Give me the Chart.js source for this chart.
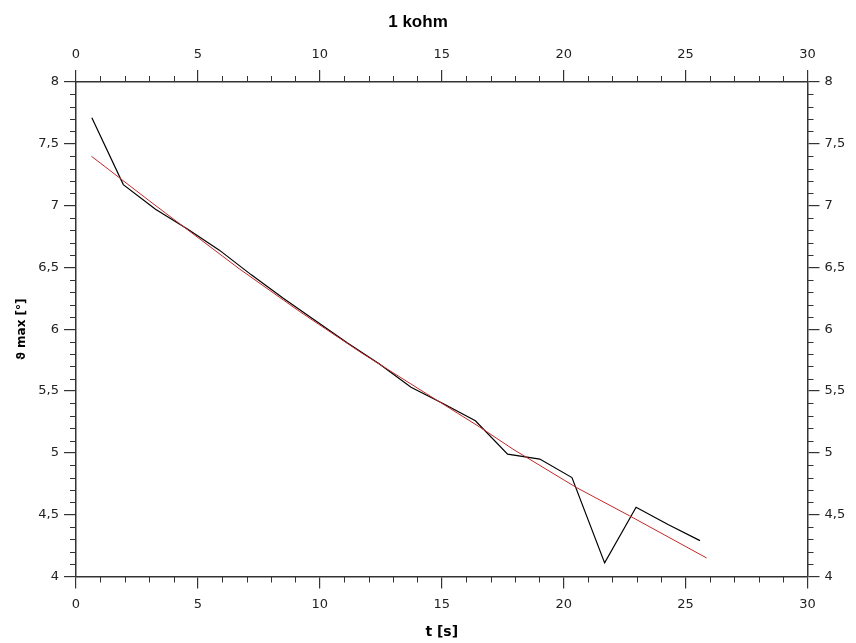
<!DOCTYPE html>
<html>
<head>
<meta charset="utf-8">
<script src="https://cdn.jsdelivr.net/npm/chart.js@4/dist/chart.umd.min.js"></script>
<style>
  html, body { margin: 0; padding: 0; background: #ffffff; }
  #wrap { width: 856px; height: 643px; }
</style>
</head>
<body>
<div id="wrap"><canvas id="c" width="856" height="643"></canvas></div>
<script>
// ---- data ----
const chartTitle = '1 kohm';
const xAxisTitle = 't [s]';
const yAxisTitle = 'ϑ max [°]';

// measured maxima (black line)
const timeS = [0.65, 1.94, 3.26, 4.57, 5.88, 7.19, 8.50, 9.81, 11.12, 12.43, 13.74, 15.05, 16.38, 17.70, 19.02, 20.34, 21.68, 22.97, 24.28, 25.59];
const thetaMax = [7.71, 7.17, 6.97, 6.81, 6.64, 6.44, 6.25, 6.07, 5.89, 5.72, 5.53, 5.40, 5.26, 4.99, 4.95, 4.80, 4.11, 4.56, 4.42, 4.29];

// fitted curve (red line)
const fitTime = [0.63, 3.0, 6.69, 9.16, 11.7, 14.36, 16.55, 17.92, 20.52, 22.71, 25.86];
const fitTheta = [7.40, 7.04, 6.49, 6.145, 5.81, 5.48, 5.21, 5.03, 4.72, 4.49, 4.15];

// axis ranges / tick steps
const xRange = [0, 30];
const yRange = [4, 8];
const xMajorStep = 5, xMinorStep = 1;
const yMajorStep = 0.5, yMinorStep = 0.1;

const AXIS = '#333333';
const FONT = '"DejaVu Sans", Verdana, sans-serif';
const TITLE_FONT = '"Liberation Sans", Arial, sans-serif';

const toPts = (xs, ys) => xs.map((x, i) => ({ x: x, y: ys[i] }));

const minorTicks = {
  id: 'minorTicks',
  afterDraw(chart) {
    const ctx = chart.ctx, a = chart.chartArea;
    const xs = chart.scales.x, ys = chart.scales.y;
    ctx.save();
    ctx.strokeStyle = AXIS;
    ctx.lineWidth = 1;
    const L = 6;
    ctx.beginPath();
    const nx = Math.round((xRange[1] - xRange[0]) / xMinorStep);
    for (let i = 0; i <= nx; i++) {
      const v = xRange[0] + i * xMinorStep;
      if (Math.abs(v / xMajorStep - Math.round(v / xMajorStep)) < 1e-6) continue;
      const px = Math.round(xs.getPixelForValue(v)) + 0.5;
      ctx.moveTo(px, a.bottom); ctx.lineTo(px, a.bottom + L);
      ctx.moveTo(px, a.top); ctx.lineTo(px, a.top - L);
    }
    const ny = Math.round((yRange[1] - yRange[0]) / yMinorStep);
    for (let i = 0; i <= ny; i++) {
      const v = yRange[0] + i * yMinorStep;
      if (Math.abs(v / yMajorStep - Math.round(v / yMajorStep)) < 1e-6) continue;
      const py = Math.round(ys.getPixelForValue(v)) + 0.5;
      ctx.moveTo(a.left, py); ctx.lineTo(a.left - L, py);
      ctx.moveTo(a.right, py); ctx.lineTo(a.right + L, py);
    }
    ctx.stroke();
    // chart title
    ctx.fillStyle = '#000';
    ctx.font = 'bold 17px ' + TITLE_FONT;
    ctx.textAlign = 'center';
    ctx.textBaseline = 'middle';
    ctx.fillText(chartTitle, 418, 22);
    ctx.restore();
  }
};

const commaFmt = v => String(Math.round(v * 10) / 10).replace('.', ',');

function gridOpts() {
  return { drawOnChartArea: false, drawTicks: true, tickLength: 12, color: AXIS, lineWidth: 1.2 };
}
function borderOpts() {
  return { display: true, color: AXIS, width: 1.5 };
}
const tickFont = { family: FONT, size: 13 };

new Chart(document.getElementById('c'), {
  type: 'line',
  data: {
    datasets: [
      {
        label: 'fit',
        data: toPts(fitTime, fitTheta),
        borderColor: 'rgb(195,40,40)',
        borderWidth: 1,
        pointRadius: 0,
        tension: 0,
        xAxisID: 'x', yAxisID: 'y'
      },
      {
        label: 'measured',
        data: toPts(timeS, thetaMax),
        borderColor: '#000000',
        borderWidth: 1.2,
        pointRadius: 0,
        tension: 0,
        xAxisID: 'x', yAxisID: 'y'
      }
    ]
  },
  options: {
    responsive: false,
    animation: false,
    layout: { padding: 0 },
    plugins: {
      legend: { display: false },
      tooltip: { enabled: false },
      title: { display: false }
    },
    scales: {
      x: {
        type: 'linear', position: 'bottom',
        min: xRange[0], max: xRange[1],
        ticks: { stepSize: xMajorStep, color: '#222', font: tickFont, padding: 8, maxRotation: 0 },
        grid: gridOpts(), border: borderOpts(),
        title: { display: true, text: xAxisTitle, color: '#000', font: { family: FONT, size: 14, weight: 'bold', lineHeight: 1.2 }, padding: { top: 0, bottom: 2 } },
        afterFit(s) { s.height = 66.5; }
      },
      x2: {
        type: 'linear', position: 'top',
        min: xRange[0], max: xRange[1],
        ticks: { stepSize: xMajorStep, color: '#222', font: tickFont, padding: 8, maxRotation: 0 },
        grid: gridOpts(), border: borderOpts(),
        afterFit(s) { s.height = 82; }
      },
      y: {
        type: 'linear', position: 'left',
        min: yRange[0], max: yRange[1],
        ticks: { stepSize: yMajorStep, color: '#222', font: tickFont, padding: 5, callback: commaFmt },
        grid: gridOpts(), border: borderOpts(),
        title: { display: true, text: yAxisTitle, color: '#000', font: { family: FONT, size: 12, weight: 'bold', lineHeight: 1.2 }, padding: { top: 15, bottom: 0 } },
        afterFit(s) { s.width = 76; }
      },
      y2: {
        type: 'linear', position: 'right',
        min: yRange[0], max: yRange[1],
        ticks: { stepSize: yMajorStep, color: '#222', font: tickFont, padding: 5, callback: commaFmt },
        grid: gridOpts(), border: borderOpts(),
        afterFit(s) { s.width = 48.5; }
      }
    }
  },
  plugins: [minorTicks]
});
</script>
</body>
</html>
